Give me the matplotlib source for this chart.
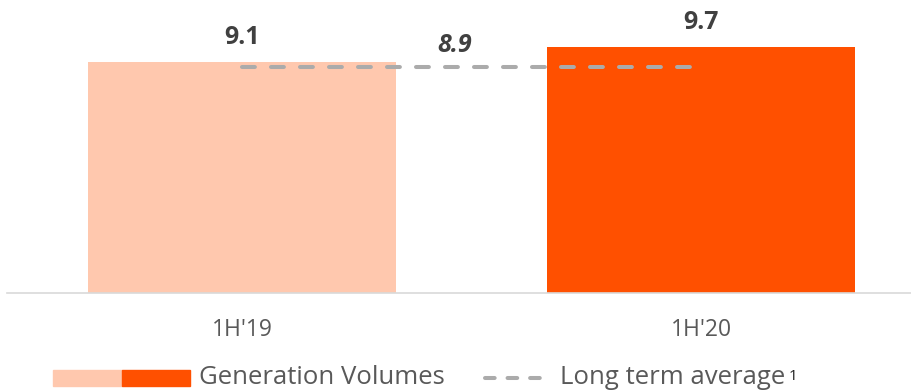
import matplotlib
matplotlib.use("Agg")
import matplotlib.pyplot as plt
from matplotlib.patches import Rectangle
from matplotlib.lines import Line2D

plt.rcParams['font.family'] = ['Open Sans', 'DejaVu Sans']

# Data
periods = ["1H'19", "1H'20"]
volumes = [9.1, 9.7]
long_term_avg = 8.9
bar_colors = ["#FFC8AE", "#FF5000"]
avg_color = "#ABABAB"
text_dark = "#404040"
text_grey = "#595959"

W, H = 912, 391
fig = plt.figure(figsize=(W / 100, H / 100), dpi=100)

# Axes: baseline at y=293 px, spans from x=7 px to the right edge
base_px = 293
ax = fig.add_axes([7 / W, (H - base_px) / H, 1 - 7 / W, base_px / H])
px_per_unit_x = 459.0
ax.set_xlim(-(242 - 7) / px_per_unit_x, 1 + (912 - 701) / px_per_unit_x)
ax.set_ylim(0, base_px / 25.36)

x = list(range(len(periods)))
ax.bar(x, volumes, width=0.671, color=bar_colors, zorder=2)

# Long term average line across the bar centres
ax.plot([x[0], x[-1]], [long_term_avg, long_term_avg], color=avg_color,
        lw=2.9, dashes=(3.2, 4.0), dash_capstyle='round', zorder=3)

# Value labels
for xi, v in zip(x, volumes):
    ax.annotate(f"{v:.1f}", (xi, v), xytext=(0, 12), textcoords='offset pixels',
                ha='center', va='bottom', fontsize=18, fontweight='bold',
                color=text_dark)
ax.annotate(f"{long_term_avg:.1f}", (0.464, long_term_avg), xytext=(0, 9),
            textcoords='offset pixels', ha='center', va='bottom', fontsize=18,
            fontweight='bold', fontstyle='italic', color=text_dark)

# Axis styling
for s in ['top', 'right', 'left']:
    ax.spines[s].set_visible(False)
ax.spines['bottom'].set_color('#D9D9D9')
ax.spines['bottom'].set_linewidth(1.2)
ax.set_yticks([])
ax.set_xticks(x)
ax.set_xticklabels(periods, fontsize=16.5, color=text_grey)
ax.tick_params(axis='x', length=0, pad=18)

# Legend drawn in figure pixel coordinates
def fx(p):
    return p / W

def fy(p):
    return (H - p) / H

leg_y = 377
fig.patches.append(Rectangle((fx(53), fy(386)), fx(69), 16 / H,
                             transform=fig.transFigure, color=bar_colors[0]))
fig.patches.append(Rectangle((fx(122), fy(386)), fx(68), 16 / H,
                             transform=fig.transFigure, color=bar_colors[1]))
fig.text(fx(199), fy(leg_y), "Generation Volumes", fontsize=18.5,
         color=text_grey, va='center', ha='left')
fig.lines.append(Line2D([fx(485), fx(550)], [fy(leg_y + 1), fy(leg_y + 1)],
                        transform=fig.transFigure, color=avg_color, lw=2.9,
                        dashes=(2.4, 3.2), dash_capstyle='round'))
fig.text(fx(560), fy(leg_y), "Long term average", fontsize=18.5,
         color=text_grey, va='center', ha='left')
fig.text(fx(789), fy(leg_y - 1), "1", fontsize=11, color='#202020',
         va='center', ha='left')

fig.savefig("out.png", dpi=100, facecolor='white')
